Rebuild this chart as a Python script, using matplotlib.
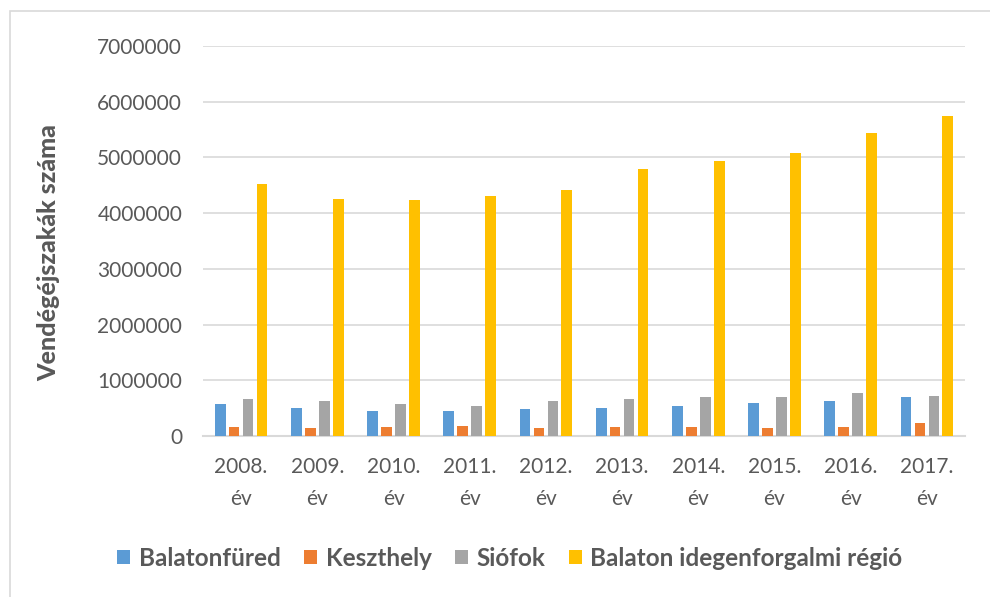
import matplotlib.pyplot as plt
import matplotlib.patches as mpatches
import numpy as np

# data
years = ["2008.\név", "2009.\név", "2010.\név", "2011.\név", "2012.\név",
         "2013.\név", "2014.\név", "2015.\név", "2016.\név", "2017.\név"]
balatonfured = [575000, 503000, 456000, 443000, 479000, 503000, 539000, 587000, 623000, 695000]
keszthely = [156000, 138000, 156000, 174000, 138000, 156000, 156000, 138000, 156000, 228000]
siofok = [659000, 623000, 575000, 539000, 623000, 671000, 707000, 707000, 767000, 718000]
balaton_regio = [4520000, 4250000, 4240000, 4310000, 4420000, 4790000, 4940000, 5080000, 5440000, 5750000]

series_names = ["Balatonfüred", "Keszthely", "Siófok", "Balaton idegenforgalmi régió"]
colors = ["#5B9BD5", "#ED7D31", "#A5A5A5", "#FFC000"]

plt.rcParams["font.family"] = ["Lato", "DejaVu Sans"]
text_grey = "#595959"

fig = plt.figure(figsize=(9.9, 5.97), dpi=100)
ax = fig.add_axes([203 / 990, 1 - 436 / 597, (965 - 203) / 990, (436 - 46) / 597])

x = np.arange(len(years))
pitch = 0.1826
width = 0.14
all_series = [balatonfured, keszthely, siofok, balaton_regio]
for i, vals in enumerate(all_series):
    ax.bar(x + (i - 1.5) * pitch, vals, width, color=colors[i], label=series_names[i], zorder=3)

ax.set_xlim(-0.5, len(years) - 0.5)
ax.set_ylim(0, 7000000)
ax.set_yticks(range(0, 7000001, 1000000))
ax.set_yticklabels([str(v) for v in range(0, 7000001, 1000000)])
ax.set_xticks(x)
ax.set_xticklabels(years, linespacing=1.75, fontsize=15)

ax.grid(axis="y", color="#d9d9d9", linewidth=1.2, zorder=0)
for side in ["top", "right", "left"]:
    ax.spines[side].set_visible(False)
ax.spines["bottom"].set_color("#d9d9d9")
ax.spines["bottom"].set_linewidth(1.5)
ax.tick_params(axis="both", length=0, labelsize=15, labelcolor=text_grey)
ax.tick_params(axis="y", pad=15)
ax.tick_params(axis="x", pad=15)

ax.set_ylabel("Vendégéjszakák száma", fontsize=18, fontweight="black", color=text_grey)
ax.yaxis.set_label_coords(-(203 - 60) / 762, 0.47)

leg = fig.legend(loc="center", bbox_to_anchor=(0.515, 1 - 558 / 597), ncol=4, frameon=False,
                 handlelength=0.55, handleheight=0.55, handletextpad=0.35, columnspacing=0.95,
                 prop={"size": 17.5, "weight": "bold"})
for t in leg.get_texts():
    t.set_color(text_grey)

# light frame around the chart area
fig.patches.append(mpatches.Rectangle((9.5 / 990, -0.1), 1.2, 1 - 11 / 597 + 0.1,
                                      transform=fig.transFigure, fill=False,
                                      edgecolor="#d9d9d9", linewidth=1.2))

fig.savefig("out.png", dpi=100)
